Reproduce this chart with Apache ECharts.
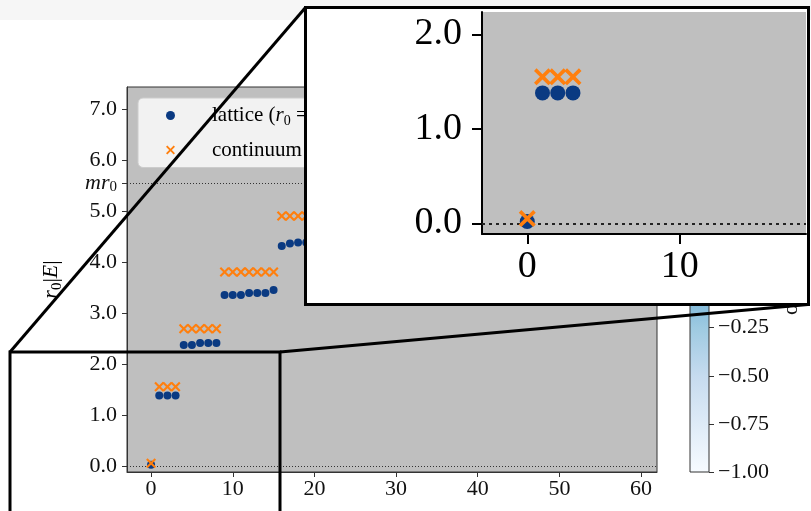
<!DOCTYPE html>
<html><head><meta charset="utf-8">
<script src="https://cdn.jsdelivr.net/npm/echarts@6/dist/echarts.min.js"></script>
<style>html,body{margin:0;padding:0;background:#fff}#c{width:811px;height:511px}</style>
</head><body><div id="c"></div>
<script>
// ---- data ----
const stateIndex = [0,1,2,3,4,5,6,7,8,9,10,11,12,13,14,15,16,17,18,19];
const latticeE   = [0.02, 1.38,1.38,1.38, 2.37,2.37,2.41,2.41,2.41, 3.35,3.35,3.35,3.39,3.39,3.39,3.45, 4.31,4.36,4.38,4.38];
const continuumE = [0.05, 1.55,1.55,1.55, 2.69,2.69,2.69,2.69,2.69, 3.80,3.80,3.80,3.80,3.80,3.80,3.80, 4.90,4.90,4.90,4.90];
const mr0 = 5.55;
const mainXTicks = [0,10,20,30,40,50,60];
const mainYTicks = [0,1,2,3,4,5,6,7];
const insetXTicks = [0,10];
const insetYTicks = [0,1,2];
const cbarTicks = [-1,-0.75,-0.5,-0.25,0,0.25,0.5,0.75,1];
const seriesNames = ['lattice','continuum'];

// ---- styling ----
const FONT = 'Liberation Serif';
const BLUE = '#0a3a82', ORANGE = '#ff7f0e';
const XSYM = 'path://M0,1.5L1.5,0L5,3.5L8.5,0L10,1.5L6.5,5L10,8.5L8.5,10L5,6.5L1.5,10L0,8.5L3.5,5Z';
const pts = ys => stateIndex.map((x,i)=>[x, ys[i]]);
const blues = ['#f7fbff','#deebf7','#c6dbef','#9ecae1','#6baed6','#4292c6','#2171b5','#08519c','#08306b'];
const gradient = {type:'linear', x:0, y:1, x2:0, y2:0,
  colorStops: blues.map((c,i)=>({offset:i/(blues.length-1), color:c}))};

function rich(fs){
  return {
    t:{fontFamily:FONT,fontSize:fs,color:'#000',lineHeight:fs+5},
    i:{fontFamily:FONT,fontSize:fs,fontStyle:'italic',color:'#000',lineHeight:fs+5},
    s:{fontFamily:FONT,fontSize:Math.round(fs*0.68),color:'#000',verticalAlign:'bottom',lineHeight:Math.round(fs*0.68)}
  };
}

const chart = echarts.init(document.getElementById('c'), null, {renderer:'canvas'});
const mainAxisLine = {show:true, onZero:false, lineStyle:{color:'#333', width:1}};
const option = {
  animation:false,
  backgroundColor:'#ffffff',
  grid:[
    {left:127, top:87, width:530, height:385, show:true, backgroundColor:'#bfbfbf', borderColor:'#333', borderWidth:1, containLabel:false, outerBoundsMode:'none', z:0},
    {left:482, top:12, width:324, height:222, show:true, backgroundColor:'#bfbfbf', borderWidth:0, containLabel:false, outerBoundsMode:'none', z:11},
    {left:690, top:87, width:19, height:385, show:true, backgroundColor:gradient, borderColor:'#333', borderWidth:1, containLabel:false, outerBoundsMode:'none', z:0}
  ],
  xAxis:[
    {gridIndex:0, type:'value', min:-2.95, max:61.95, axisLine:mainAxisLine,
     axisTick:{show:true, customValues:mainXTicks, length:5, lineStyle:{color:'#333'}},
     axisLabel:{customValues:mainXTicks, margin:6, fontFamily:FONT, fontSize:22, color:'#111'},
     splitLine:{show:false}},
    {gridIndex:1, type:'value', min:-2.97, max:18.29, z:11,
     axisLine:{show:true, onZero:false, lineStyle:{color:'#000', width:2}},
     axisTick:{show:true, customValues:insetXTicks, length:10, lineStyle:{color:'#000', width:2}},
     axisLabel:{customValues:insetXTicks, margin:14, fontFamily:FONT, fontSize:38, color:'#000'},
     splitLine:{show:false}},
    {gridIndex:2, type:'value', min:0, max:1, show:false}
  ],
  yAxis:[
    {gridIndex:0, type:'value', min:-0.12, max:7.43, axisLine:mainAxisLine,
     axisTick:{show:true, customValues:mainYTicks.concat([mr0]), length:5, lineStyle:{color:'#333'}},
     axisLabel:{customValues:mainYTicks.concat([mr0]), margin:10, fontFamily:FONT, fontSize:22, color:'#111',
       formatter: v => Math.abs(v-mr0)<1e-6 ? '{i|mr}{s|0}' : v.toFixed(1),
       rich:{i:{fontFamily:FONT,fontSize:22,fontStyle:'italic',color:'#111'}, s:{fontFamily:FONT,fontSize:15,color:'#111',verticalAlign:'bottom',padding:[8,0,0,0]}}},
     splitLine:{show:false},
     name:'{i|r}{s|0}{t||}{i|E}{t||}', nameLocation:'middle', nameGap:62, nameRotate:90,
     nameTextStyle:{rich:rich(22)}},
    {gridIndex:1, type:'value', min:-0.113, max:2.236, z:11,
     axisLine:{show:true, onZero:false, lineStyle:{color:'#000', width:2}},
     axisTick:{show:true, customValues:insetYTicks, length:10, lineStyle:{color:'#000', width:2}},
     axisLabel:{customValues:insetYTicks, margin:20, fontFamily:FONT, fontSize:38, color:'#000', formatter:v=>v.toFixed(1)},
     splitLine:{show:false}},
    {gridIndex:2, type:'value', min:-1, max:1, position:'right',
     axisLine:{show:false, onZero:false},
     axisTick:{show:true, customValues:cbarTicks, length:5, lineStyle:{color:'#333'}},
     axisLabel:{customValues:cbarTicks, margin:9, fontFamily:FONT, fontSize:22, color:'#111',
       formatter:v=>v.toFixed(2).replace('-','\u2212')},
     splitLine:{show:false}}
  ],
  legend:{
    data:seriesNames, orient:'vertical', left:138, top:98, padding:[7,140,7,28],
    itemWidth:9, itemHeight:9, itemGap:11, selectedMode:false, z:4,
    backgroundColor:'rgba(255,255,255,0.8)', borderColor:'#cccccc', borderWidth:1, borderRadius:5,
    textStyle:{fontFamily:FONT, fontSize:21, color:'#000', padding:[0,0,0,32], rich:rich(21)},
    formatter: n => n==='lattice' ? '{t|lattice (}{i|r}{s|0}{t| = 1)}' : '{t|continuum}'
  },
  series:[
    {name:seriesNames[0], type:'scatter', xAxisIndex:0, yAxisIndex:0, z:2, symbol:'circle', symbolSize:8,
     itemStyle:{color:BLUE, opacity:1}, data:pts(latticeE),
     markLine:{silent:true, z:2, symbol:['none','none'], label:{show:false},
       lineStyle:{type:[1,2], color:'#333', width:1},
       data:[{yAxis:0},{yAxis:mr0}]}},
    {name:seriesNames[1], type:'scatter', xAxisIndex:0, yAxisIndex:0, z:3, symbol:XSYM, symbolSize:10,
     itemStyle:{color:ORANGE, opacity:1}, data:pts(continuumE)},
    {name:seriesNames[0], type:'scatter', xAxisIndex:1, yAxisIndex:1, z:12, symbol:'circle', symbolSize:15,
     itemStyle:{color:BLUE, opacity:1}, data:pts(latticeE),
     markLine:{silent:true, z:12, symbol:['none','none'], label:{show:false},
       lineStyle:{type:[3,4], color:'#222', width:2},
       data:[{yAxis:0}]}},
    {name:seriesNames[1], type:'scatter', xAxisIndex:1, yAxisIndex:1, z:13, symbol:XSYM, symbolSize:17,
     itemStyle:{color:ORANGE, opacity:1}, data:pts(continuumE)}
  ],
  graphic:[
    {type:'rect', z:-1, shape:{x:0,y:0,width:811,height:20}, style:{fill:'#f6f6f6'}},
    {type:'text', z:5, x:791, y:282, rotation:Math.PI/2,
     style:{text:'overlap', font:'22px "Liberation Serif"', fill:'#111', textAlign:'center', textVerticalAlign:'middle'}},
    {type:'rect', z:10, shape:{x:305.5,y:7.5,width:503,height:297}, style:{fill:'#ffffff'}},
    {type:'rect', z:50, shape:{x:305.5,y:7.5,width:503,height:297}, style:{fill:'none', stroke:'#000', lineWidth:3}},
    {type:'rect', z:50, shape:{x:10,y:352,width:270,height:300}, style:{fill:'none', stroke:'#000', lineWidth:3}},
    {type:'line', z:50, shape:{x1:305.5,y1:7.5,x2:10,y2:352}, style:{stroke:'#000', lineWidth:3}},
    {type:'line', z:50, shape:{x1:280,y1:352,x2:808,y2:304.5}, style:{stroke:'#000', lineWidth:3}}
  ]
};
chart.setOption(option);
</script></body></html>
